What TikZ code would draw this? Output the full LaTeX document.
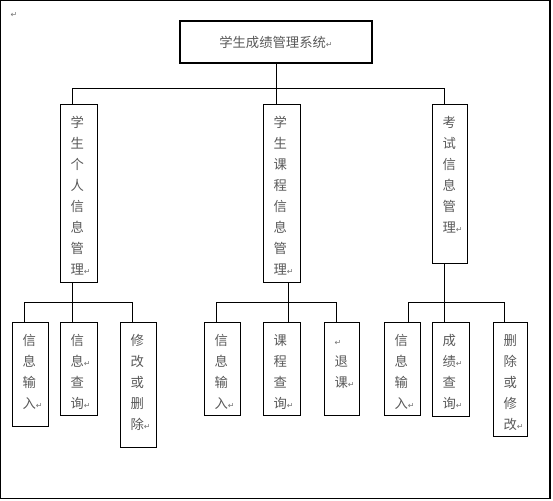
\documentclass[tikz,border=0pt]{standalone}
\usepackage{fontspec}
\usepackage{tikz}
\usetikzlibrary{positioning, calc}
\newfontfamily\cjkfont{Noto Sans CJK SC}
\newfontfamily\symfont{DejaVu Sans}
\newlength\pxu
\setlength\pxu{0.75pt}
% paragraph mark as Word shows it
\newcommand\crt{{\symfont\fontsize{6}{6}\selectfont\textcolor{black!55}{↵}}}
% one character per line, top aligned in a fixed box
\newcommand\coltext[3]{\parbox[t][#2\pxu][t]{#1\pxu}{\cjkfont\fontsize{10}{15.75}\selectfont
  \leftskip=10\pxu\rule{0pt}{22.5\pxu}#3}}

\begin{document}
\begin{tikzpicture}[x=\pxu, y=-\pxu,
  box/.style={draw, line width=0.9pt, inner sep=0pt, anchor=north west, text=black!65},
  topbox/.style={draw, line width=0.9pt, minimum width=192\pxu, minimum height=42\pxu,
    inner sep=0pt, text=black!65, font=\cjkfont\fontsize{10}{12}\selectfont},
  link/.style={line width=0.75pt}
]
  \useasboundingbox (0,0) rectangle (553,500);
  % frame
  \draw[line width=0.8pt] (0.5,0.5) rectangle (550,498.5);
  \node[inner sep=0pt] (pmark) at (14,15) {\crt};

  % root
  \node[topbox] (top) at (276,42) {学生成绩管理系统\crt};

  % second level
  \node[box] (m1) at (60,104) {\coltext{37}{178}{学\\生\\个\\人\\信\\息\\管\\理\crt}};
  \node[box] (m2) at (263,104) {\coltext{37}{178}{学\\生\\课\\程\\信\\息\\管\\理\crt}};
  \node[box] (m3) at (432,104) {\coltext{35}{159}{考\\试\\信\\息\\管\\理\crt}};

  % third level
  \foreach \nm/\x/\w/\h/\txt in {
      b11/12/36/104/{信\\息\\输\\入\crt},
      b12/60/37/93/{信\\息\crt\\查\\询\crt},
      b13/120/36/125/{修\\改\\或\\删\\除\crt},
      b21/204/36/93/{信\\息\\输\\入\crt},
      b22/263/37/93/{课\\程\\查\\询\crt},
      b23/324/35/93/{\crt\\退\\课\crt},
      b31/384/36/93/{信\\息\\输\\入\crt},
      b32/432/37/94/{成\\绩\crt\\查\\询\crt},
      b33/493/34/114/{删\\除\\或\\修\\改\crt}} {
    \node[box] (\nm) at (\x,322) {\coltext{\w}{\h}{\txt}};
  }

  % root to second level
  \coordinate (t1) at (72,88);
  \coordinate (t3) at (444,88);
  \draw[link] (top.south) -- (top.south |- t1);
  \draw[link] (t1) -- (t3);
  \draw[link] (t1) -- (t1 |- m1.north);
  \draw[link] (top.south |- t1) -- (top.south |- m2.north);
  \draw[link] (t3) -- (t3 |- m3.north);

  % second to third level
  \coordinate (u1a) at (24,302);
  \coordinate (u1c) at (132,302);
  \coordinate (u2a) at (216,302);
  \coordinate (u2b) at (288,302);
  \coordinate (u2c) at (336,302);
  \coordinate (u3a) at (408,302);
  \coordinate (u3c) at (504,302);
  \draw[link] (u1a) -- (u1c);
  \draw[link] (t1 |- m1.south) -- (t1 |- b12.north);
  \draw[link] (u1a) -- (u1a |- b11.north);
  \draw[link] (u1c) -- (u1c |- b13.north);
  \draw[link] (u2a) -- (u2c);
  \draw[link] (u2b |- m2.south) -- (u2b |- b22.north);
  \draw[link] (u2a) -- (u2a |- b21.north);
  \draw[link] (u2c) -- (u2c |- b23.north);
  \draw[link] (u3a) -- (u3c);
  \draw[link] (t3 |- m3.south) -- (t3 |- b32.north);
  \draw[link] (u3a) -- (u3a |- b31.north);
  \draw[link] (u3c) -- (u3c |- b33.north);
\end{tikzpicture}
\end{document}
